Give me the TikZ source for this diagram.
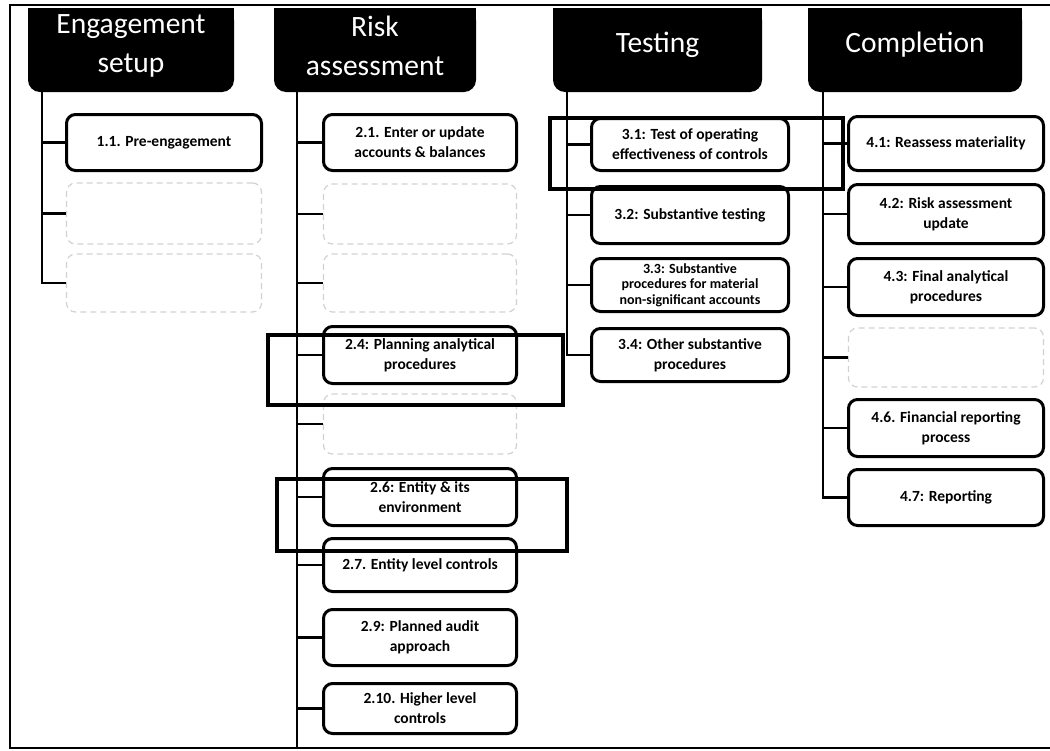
\documentclass[tikz,border=0pt]{standalone}
\usepackage{fontspec}
\setmainfont{Carlito}
\begin{document}
\begin{tikzpicture}[x=1pt,y=-1pt,
  hdr/.style={fill=black, rounded corners=12pt, inner sep=0pt, minimum height=84pt},
  hdrtext/.style={text=white, font=\fontsize{29.5}{39}\selectfont, align=center, inner sep=0pt},
  stepbox/.style={draw=black, line width=3pt, rounded corners=9pt, fill=white, align=center,
    inner sep=1pt, font=\fontsize{15.5}{20}\selectfont\bfseries},
  ghost/.style={draw=gray!35, line width=1.2pt, rounded corners=9pt, dash pattern=on 6pt off 4pt},
  wire/.style={line width=2.4pt},
  focus/.style={draw=black, line width=3.4pt},
  c1/.style={minimum width=195pt},
  c2/.style={minimum width=193pt},
  c3/.style={minimum width=197pt},
  c4/.style={minimum width=195pt},
]
\useasboundingbox (0,0) rectangle (1050,750);

% outer frame
\draw[line width=2.4pt] (1050,5) -- (10,5) -- (10,748) -- (1050,748);

% phase headers (rounded at the bottom only)
\node[hdr, minimum width=206pt] (h1) at (131,50) {};
\node[hdr, minimum width=202pt] (h2) at (375,50) {};
\node[hdr, minimum width=209pt] (h3) at (657.5,50) {};
\node[hdr, minimum width=214pt] (h4) at (915,50) {};
\foreach \h in {h1,h2,h3,h4} \fill (\h.north west) rectangle (\h.east);
\node[hdrtext] (h1t) at ([yshift=4pt]h1.center) {Engagement\\setup};
\node[hdrtext] (h2t) at ([yshift=4pt]h2.center) {Risk\\assessment};
\node[hdrtext] (h3t) at ([yshift=5pt]h3.center) {Testing};
\node[hdrtext] (h4t) at ([yshift=5pt]h4.center) {Completion};

% spine tops
\coordinate (s1) at (42,92);
\coordinate (s2) at (297,92);
\coordinate (s3) at (567,92);
\coordinate (s4) at (823,92);
\coordinate (s2end) at (297,748);

% engagement setup
\node[stepbox, c1, minimum height=56pt] (b11) at (164,142.5) {1.1. Pre-engagement};
\node[ghost, c1, minimum height=61pt] (b12) at (164,213.5) {};
\node[ghost, c1, minimum height=58pt] (b13) at (164,283) {};

% risk assessment
\node[stepbox, c2, minimum height=56pt] (b21) at (420,142.5) {2.1. Enter or update\\accounts \& balances};
\node[ghost, c2, minimum height=60pt] (b22) at (420,214) {};
\node[ghost, c2, minimum height=58pt] (b23) at (420,283) {};
\node[stepbox, c2, minimum height=57pt] (b24) at (420,355) {2.4: Planning analytical\\procedures};
\node[ghost, c2, minimum height=60pt] (b25) at (420,424) {};
\node[stepbox, c2, minimum height=57pt] (b26) at (420,497) {2.6: Entity \& its\\environment};
\node[stepbox, c2, minimum height=53pt] (b27) at (420,565) {2.7. Entity level controls};
\node[stepbox, c2, minimum height=56pt] (b29) at (420,637.5) {2.9: Planned audit\\approach};
\node[stepbox, c2, minimum height=50pt] (b210) at (420,708.5) {2.10. Higher level\\controls};

% testing
\node[stepbox, c3, minimum height=52pt] (b31) at (690,144.5) {3.1: Test of operating\\effectiveness of controls};
\node[stepbox, c3, minimum height=57pt] (b32) at (690,215) {3.2: Substantive testing};
\node[stepbox, c3, minimum height=53pt, font=\fontsize{14}{15.5}\selectfont\bfseries] (b33) at (690,285) {3.3: Substantive\\procedures for material\\non-significant accounts};
\node[stepbox, c3, minimum height=53pt] (b34) at (690,355) {3.4: Other substantive\\procedures};

% completion
\node[stepbox, c4, minimum height=54pt] (b41) at (946,143.5) {4.1: Reassess materiality};
\node[stepbox, c4, minimum height=59pt] (b42) at (946,214) {4.2: Risk assessment\\update};
\node[stepbox, c4, minimum height=57pt] (b43) at (946,287) {4.3: Final analytical\\procedures};
\node[ghost, c4, minimum height=59pt] (b44) at (946,357.5) {};
\node[stepbox, c4, minimum height=57pt] (b46) at (946,428) {4.6. Financial reporting\\process};
\node[stepbox, c4, minimum height=56pt] (b47) at (946,497.5) {4.7: Reporting};

% spines and branches
\draw[wire] (s1) |- (b13.west);
\foreach \b in {b11,b12} \draw[wire] (\b.west) -- (\b.west -| s1);
\draw[wire] (s2) -- (s2end);
\foreach \b in {b21,b22,b23,b24,b25,b26,b27,b29,b210} \draw[wire] (\b.west) -- (\b.west -| s2);
\draw[wire] (s3) |- (b34.west);
\foreach \b in {b31,b32,b33} \draw[wire] (\b.west) -- (\b.west -| s3);
\draw[wire] (s4) |- (b47.west);
\foreach \b in {b41,b42,b43,b44,b46} \draw[wire] (\b.west) -- (\b.west -| s4);

% emphasis frames
\draw[focus] (268,335) rectangle (563,405);
\draw[focus] (277,479) rectangle (567,551);
\draw[focus] (550,118) rectangle (843,189);
\end{tikzpicture}
\end{document}
